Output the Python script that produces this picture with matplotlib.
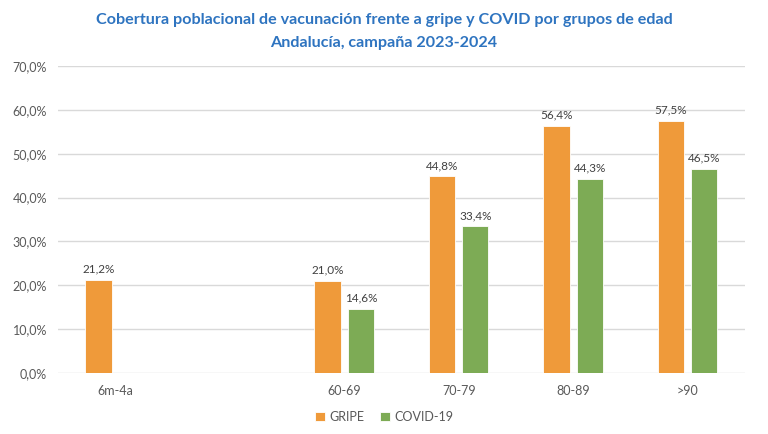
import matplotlib.pyplot as plt
import numpy as np

plt.rcParams['font.family'] = ['Lato', 'DejaVu Sans']

categories = ["6m-4a", "", "60-69", "70-79", "80-89", ">90"]
gripe = [21.2, np.nan, 21.0, 44.8, 56.4, 57.5]
covid = [np.nan, np.nan, 14.6, 33.4, 44.3, 46.5]

orange = "#EF9A3A"
green = "#7DAB55"
grey_txt = "#595959"

fig = plt.figure(figsize=(7.68, 4.34), dpi=100)
ax = fig.add_axes([0.0755, 0.1406, 0.8945, 0.7074])

x = np.arange(len(categories))
w = 0.228
off = 0.146
b1 = ax.bar(x - off, gripe, w, color=orange, edgecolor="white", linewidth=0.6, label="GRIPE", zorder=3)
b2 = ax.bar(x + off, covid, w, color=green, edgecolor="white", linewidth=0.6, label="COVID-19", zorder=3)

# etiquetas de valor
for bars, vals in ((b1, gripe), (b2, covid)):
    for rect, v in zip(bars, vals):
        if np.isnan(v):
            continue
        ax.annotate(f"{v:.1f}%".replace(".", ","),
                    (rect.get_x() + rect.get_width() / 2, v),
                    xytext=(0, 4), textcoords="offset points",
                    ha="center", va="bottom", fontsize=8.5, color="#404040")

ax.set_xlim(-0.5, len(categories) - 0.5)
ax.set_ylim(0, 70)
ax.set_yticks(np.arange(0, 71, 10))
ax.set_yticklabels([f"{t:.1f}%".replace(".", ",") for t in np.arange(0, 71, 10)])
ax.set_xticks(x)
ax.set_xticklabels(categories)
ax.tick_params(axis="both", length=0, colors=grey_txt, labelsize=9)
ax.tick_params(axis="x", pad=9)
ax.tick_params(axis="y", pad=8)
ax.grid(axis="y", color="#D9D9D9", linewidth=1, zorder=0)
for s in ax.spines.values():
    s.set_visible(False)

fig.text(0.5, 0.953, "Cobertura poblacional de vacunación frente a gripe y COVID por grupos de edad",
         ha="center", va="center", fontsize=11.6, fontweight="bold", color="#2E74C0")
fig.text(0.5, 0.902, "Andalucía, campaña 2023-2024",
         ha="center", va="center", fontsize=11.6, fontweight="bold", color="#2E74C0")

fig.legend(handles=[b1, b2], loc="center", bbox_to_anchor=(0.5, 0.04), ncol=2,
           frameon=False, fontsize=9, labelcolor=grey_txt, handlelength=0.8,
           handleheight=0.8, handletextpad=0.4, columnspacing=1.2)

fig.savefig("out.png", dpi=100)
